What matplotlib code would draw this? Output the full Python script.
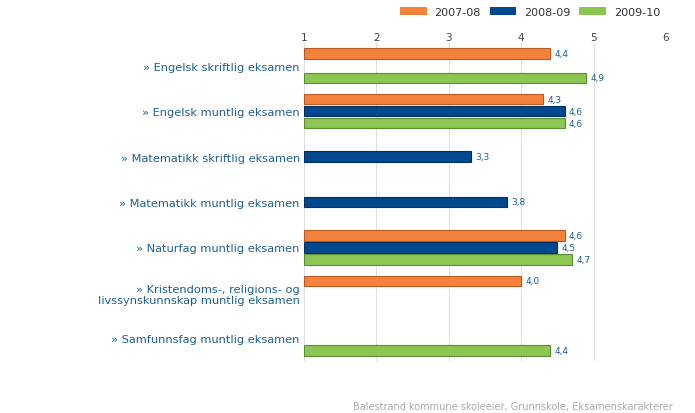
import matplotlib.pyplot as plt
import numpy as np
from matplotlib.patches import Patch

# data
categories = ['» Engelsk skriftlig eksamen',
              '» Engelsk muntlig eksamen',
              '» Matematikk skriftlig eksamen',
              '» Matematikk muntlig eksamen',
              '» Naturfag muntlig eksamen',
              '» Kristendoms-, religions- og\nlivssynskunnskap muntlig eksamen',
              '» Samfunnsfag muntlig eksamen']
years = ['2007-08', '2008-09', '2009-10']
v0708 = [4.4, 4.3, np.nan, np.nan, 4.6, 4.0, np.nan]
v0809 = [np.nan, 4.6, 3.3, 3.8, 4.5, np.nan, np.nan]
v0910 = [4.9, 4.6, np.nan, np.nan, 4.7, np.nan, 4.4]
colors = ['#F5823A', '#00498F', '#8CC653']
edges = ['#B85A22', '#002E5E', '#5E8E34']

fig = plt.figure(figsize=(6.95, 4.14), dpi=100)
ax = fig.add_axes([304 / 695, 1 - 362 / 414, 362 / 695, 318 / 414])

y = np.arange(len(categories))
step = 0.265
h = 0.23
for i, (vals, c, ec) in enumerate(zip([v0708, v0809, v0910], colors, edges)):
    pos = y + (i - 1) * step
    v = np.array(vals)
    ax.barh(pos, v - 1, left=1, height=h, color=c, edgecolor=ec, linewidth=0.8, zorder=3)
    for p, val in zip(pos, v):
        if not np.isnan(val):
            ax.text(val + 0.06, p, f'{val:.1f}'.replace('.', ','), va='center', ha='left',
                    fontsize=6.5, color='#1F5F8F', zorder=4)

ax.set_xlim(1, 6)
ax.set_ylim(len(categories) - 0.5, -0.5)
ax.xaxis.tick_top()
ax.set_xticks([1, 2, 3, 4, 5, 6])
ax.tick_params(axis='x', length=0, pad=1, labelsize=7.5, labelcolor='#444444')
ax.set_yticks(y)
ax.set_yticklabels(categories, fontsize=8.2, color='#1F5F8F', linespacing=1.2)
ax.tick_params(axis='y', length=0, pad=3)
ax.grid(axis='x', color='#DDDDDD', linewidth=0.8, zorder=0)
for s in ax.spines.values():
    s.set_visible(False)

handles = [Patch(facecolor=c, edgecolor='none') for c in colors]
fig.legend(handles, years, loc='upper right', bbox_to_anchor=(670 / 695, 1.005), ncol=3,
           frameon=False, fontsize=8, handlelength=2.4, handleheight=0.8,
           columnspacing=0.8, handletextpad=0.7, labelcolor='#333333')

fig.text(673 / 695, 1 - 407 / 414, 'Balestrand kommune skoleeier, Grunnskole, Eksamenskarakterer',
         ha='right', va='center', fontsize=7, color='#AAAAAA')

fig.savefig('out.png', dpi=100)
